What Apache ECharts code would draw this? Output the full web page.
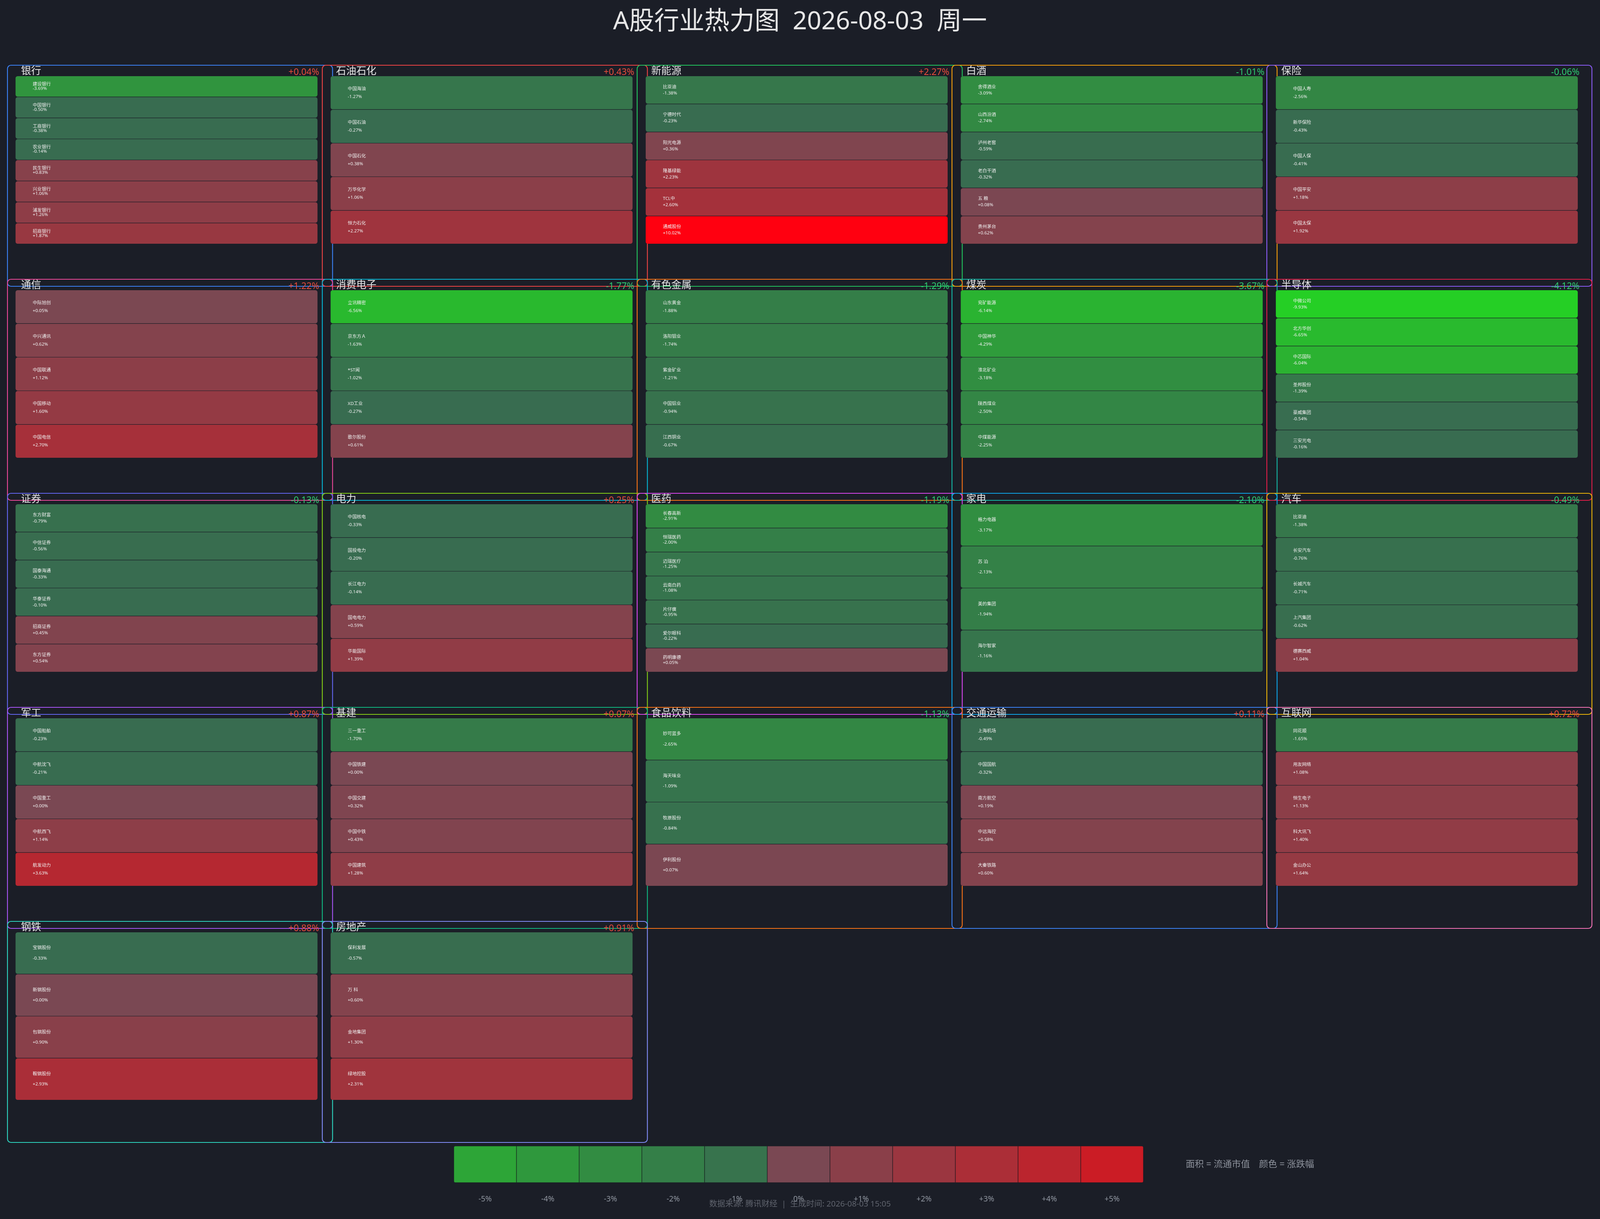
<!DOCTYPE html>
<html>
<head>
<meta charset="utf-8">
<script src="https://cdn.jsdelivr.net/npm/echarts@6/dist/echarts.min.js"></script>
<style>
html,body{margin:0;padding:0;background:#1b1e27;overflow:hidden;}
#c{width:100vw;height:100vh;}
</style>
</head>
<body>
<div id="c"></div>
<script>
// ---------------- DATA ----------------
const titleText = 'A股行业热力图  2026-08-03  周一';
const footerText = '数据来源: 腾讯财经  |  生成时间: 2026-08-03 15:05';
const noteText = '面积 = 流通市值　颜色 = 涨跌幅';

const sectorNames = ['银行','石油石化','新能源','白酒','保险',
  '通信','消费电子','有色金属','煤炭','半导体',
  '证券','电力','医药','家电','汽车',
  '军工','基建','食品饮料','交通运输','互联网',
  '钢铁','房地产'];
const sectorChg = [0.04, 0.43, 2.27, -1.01, -0.06,
  1.22, -1.77, -1.29, -3.67, -4.12,
  -0.13, 0.25, -1.19, -2.10, -0.49,
  0.87, 0.07, -1.13, 0.11, 0.72,
  0.88, 0.91];

const stockNames = [
  ['建设银行','中国银行','工商银行','农业银行','民生银行','兴业银行','浦发银行','招商银行'],
  ['中国海油','中国石油','中国石化','万华化学','恒力石化'],
  ['比亚迪','宁德时代','阳光电源','隆基绿能','TCL中','通威股份'],
  ['舍得酒业','山西汾酒','泸州老窖','老白干酒','五 粮','贵州茅台'],
  ['中国人寿','新华保险','中国人保','中国平安','中国太保'],
  ['中际旭创','中兴通讯','中国联通','中国移动','中国电信'],
  ['立讯精密','京东方Ａ','*ST闻','XD工业','歌尔股份'],
  ['山东黄金','洛阳钼业','紫金矿业','中国铝业','江西铜业'],
  ['兖矿能源','中国神华','淮北矿业','陕西煤业','中煤能源'],
  ['中微公司','北方华创','中芯国际','圣邦股份','豪威集团','三安光电'],
  ['东方财富','中信证券','国泰海通','华泰证券','招商证券','东方证券'],
  ['中国核电','国投电力','长江电力','国电电力','华能国际'],
  ['长春高新','恒瑞医药','迈瑞医疗','云南白药','片仔癀','爱尔眼科','药明康德'],
  ['格力电器','苏 泊','美的集团','海尔智家'],
  ['比亚迪','长安汽车','长城汽车','上汽集团','德赛西威'],
  ['中国船舶','中航沈飞','中国重工','中航西飞','航发动力'],
  ['三一重工','中国铁建','中国交建','中国中铁','中国建筑'],
  ['妙可蓝多','海天味业','牧原股份','伊利股份'],
  ['上海机场','中国国航','南方航空','中远海控','大秦铁路'],
  ['同花顺','用友网络','恒生电子','科大讯飞','金山办公'],
  ['宝钢股份','新钢股份','包钢股份','鞍钢股份'],
  ['保利发展','万 科','金地集团','绿地控股']
];
const stockChg = [
  [-3.69,-0.50,-0.38,-0.14,0.83,1.06,1.26,1.87],
  [-1.27,-0.27,0.38,1.06,2.27],
  [-1.38,-0.23,0.36,2.23,2.60,10.02],
  [-3.09,-2.74,-0.59,-0.32,0.08,0.62],
  [-2.56,-0.43,-0.41,1.18,1.92],
  [0.05,0.62,1.12,1.60,2.70],
  [-6.56,-1.63,-1.02,-0.27,0.61],
  [-1.88,-1.74,-1.21,-0.94,-0.67],
  [-6.14,-4.29,-3.18,-2.50,-2.25],
  [-9.93,-6.65,-6.04,-1.39,-0.54,-0.16],
  [-0.79,-0.56,-0.33,-0.10,0.45,0.54],
  [-0.33,-0.20,-0.14,0.59,1.39],
  [-2.91,-2.00,-1.25,-1.08,-0.95,-0.22,0.05],
  [-3.17,-2.13,-1.94,-1.16],
  [-1.38,-0.76,-0.71,-0.62,1.04],
  [-0.23,-0.21,0.00,1.14,3.63],
  [-1.70,0.00,0.32,0.43,1.28],
  [-2.65,-1.09,-0.84,0.07],
  [-0.49,-0.32,0.19,0.58,0.60],
  [-1.65,1.08,1.13,1.40,1.64],
  [-0.33,0.00,0.90,2.93],
  [-0.57,0.60,1.30,2.31]
];
// relative areas (all strips in a sector are drawn equal in the reference)
const stockCap = [
  [1,1,1,1,1,1,1,1],[1,1,1,1,1],[1,1,1,1,1,1],[1,1,1,1,1,1],[1,1,1,1,1],
  [1,1,1,1,1],[1,1,1,1,1],[1,1,1,1,1],[1,1,1,1,1],[1,1,1,1,1,1],
  [1,1,1,1,1,1],[1,1,1,1,1],[1,1,1,1,1,1,1],[1,1,1,1],[1,1,1,1,1],
  [1,1,1,1,1],[1,1,1,1,1],[1,1,1,1],[1,1,1,1,1],[1,1,1,1,1],
  [1,1,1,1],[1,1,1,1]
];
const legendSteps = [-5,-4,-3,-2,-1,0,1,2,3,4,5];
const legendLabels = ['-5%','-4%','-3%','-2%','-1%','0%','+1%','+2%','+3%','+4%','+5%'];

// ---------------- STYLE ----------------
const boxColors = ['#3b82f6','#ef4444','#22c55e','#f59e0b','#8b5cf6',
  '#ec4899','#06b6d4','#f97316','#14b8a6','#e11d48',
  '#6366f1','#84cc16','#d946ef','#0ea5e9','#eab308',
  '#a855f7','#10b981','#f97316','#3b82f6','#f472b6',
  '#2dd4bf','#818cf8'];
const FONT = '"Noto Sans", "Noto Sans CJK SC", sans-serif';
const BG = '#1b1e27';

function clamp(v, lo, hi) { return Math.max(lo, Math.min(hi, v)); }
function colorFor(c) {
  let r, g, b;
  if (c < 0) {
    const e = clamp(-c, 0.45, 8.3);
    r = 57 - 2.4 * e; g = 102 + 12.6 * e; b = 82.5 - 5.5 * e;
  } else {
    r = 122 + 16.25 * c; g = 72 - 8.8 * c; b = 82.5 - 9.2 * c;
  }
  r = clamp(Math.round(r), 0, 255); g = clamp(Math.round(g), 0, 255); b = clamp(Math.round(b), 16, 255);
  return 'rgb(' + r + ',' + g + ',' + b + ')';
}
function fmt(c) { return (c >= 0 ? '+' : '') + c.toFixed(2) + '%'; }

const chart = echarts.init(document.getElementById('c'), null, {renderer: 'canvas'});
// layout measured on a 5148x3121 picture; map to the actual canvas
const SX = chart.getWidth() / 5148;
const SY = chart.getHeight() / 3121;
const SF = Math.sqrt(SX * SY);
function X(v) { return v * SX; }
function Y(v) { return v * SY; }
function F(v) { return v * SF; }

const INNER_X0 = 50, INNER_DX = 1013.75, INNER_W = 971.5;
const INNER_Y0 = 195, INNER_DY = 548, INNER_H = 429;
const BOX_X0 = 24, BOX_DX = 1013, BOX_W = 1046, BOX_H = 566;

const series = [];
const boxEls = [];
const textEls = [];

sectorNames.forEach(function (name, i) {
  const row = Math.floor(i / 5), col = i % 5;
  const ix = INNER_X0 + INNER_DX * col;
  const iy = INNER_Y0 + INNER_DY * row;
  const bx = BOX_X0 + BOX_DX * col;
  const by = iy - 28;
  boxEls.push({
    type: 'rect', z: 0, silent: true,
    shape: {x: X(bx), y: Y(by), width: X(BOX_W), height: Y(BOX_H), r: F(10)},
    style: {fill: 'none', stroke: boxColors[i], lineWidth: F(2.5)}
  });
  textEls.push({
    type: 'text', z: 100, silent: true, x: X(ix + 17.5), y: Y(by + 16),
    style: {text: name, fill: '#e4e4e4', fontSize: F(29), fontFamily: FONT,
      align: 'left', verticalAlign: 'middle', textAlign: 'left', textVerticalAlign: 'middle'}
  });
  const sc = sectorChg[i];
  textEls.push({
    type: 'text', z: 100, silent: true, x: X(ix + 977), y: Y(by + 18.5),
    style: {text: fmt(sc), fill: sc >= 0 ? '#e74c3c' : '#2ecc71', fontSize: F(26), fontFamily: FONT,
      align: 'right', verticalAlign: 'middle', textAlign: 'right', textVerticalAlign: 'middle'}
  });
  const n = stockNames[i].length;
  const lh = 0.281 * (INNER_H / n) - 4.06;
  series.push({
    type: 'treemap',
    name: name,
    left: X(ix), top: Y(iy), width: X(INNER_W), height: Y(INNER_H),
    roam: false, nodeClick: false, silent: true,
    breadcrumb: {show: false},
    sort: false,
    squareRatio: 1e6,
    itemStyle: {gapWidth: Y(1.2), borderWidth: 0, borderColor: BG, borderRadius: F(6)},
    upperLabel: {show: false},
    label: {
      show: true, position: 'insideLeft', distance: X(49),
      fontSize: F(13), fontFamily: FONT, color: '#f0f0f0', lineHeight: Y(lh),
      formatter: function (p) { return p.name + '\n' + fmt(p.data.chg); }
    },
    emphasis: {disabled: true},
    data: stockNames[i].map(function (s, k) {
      return {name: s, value: stockCap[i][k], chg: stockChg[i][k],
        itemStyle: {color: colorFor(stockChg[i][k])}};
    })
  });
});

// legend bar (colour scale)
series.push({
  type: 'bar', silent: true,
  xAxisIndex: 0, yAxisIndex: 0,
  barWidth: '100%', barCategoryGap: '0%',
  data: legendSteps.map(function (v, k) {
    return {value: 1, itemStyle: {
      color: colorFor(v), borderColor: 'rgba(0,0,0,0.2)', borderWidth: 1,
      borderRadius: k === 0 ? [F(4),0,0,F(4)] : (k === legendSteps.length - 1 ? [0,F(4),F(4),0] : 0)
    }};
  })
});

textEls.push({
  type: 'text', z: 100, silent: true, x: X(2574), y: Y(57),
  style: {text: titleText, fill: '#e6e6e6', fontSize: F(72), fontFamily: FONT,
    align: 'center', verticalAlign: 'middle', textAlign: 'center', textVerticalAlign: 'middle'}
});
textEls.push({
  type: 'text', z: 100, silent: true, x: X(3815), y: Y(2981),
  style: {text: noteText, fill: '#8c919b', fontSize: F(26), fontFamily: FONT,
    align: 'left', verticalAlign: 'middle', textAlign: 'left', textVerticalAlign: 'middle'}
});
textEls.push({
  type: 'text', z: 100, silent: true, x: X(2574), y: Y(3083),
  style: {text: footerText, fill: '#5f636d', fontSize: F(23), fontFamily: FONT,
    align: 'center', verticalAlign: 'middle', textAlign: 'center', textVerticalAlign: 'middle'}
});

chart.setOption({
  backgroundColor: BG,
  animation: false,
  grid: {left: X(1460), top: Y(2934), width: X(2219), height: Y(94)},
  xAxis: {
    type: 'category', data: legendLabels,
    axisLine: {show: false}, axisTick: {show: false}, splitLine: {show: false},
    axisLabel: {color: '#9096a0', fontSize: F(22), fontFamily: FONT, margin: Y(33)}
  },
  yAxis: {type: 'value', min: 0, max: 1, show: false},
  graphic: {elements: boxEls.concat(textEls)},
  series: series
});
</script>
</body>
</html>
